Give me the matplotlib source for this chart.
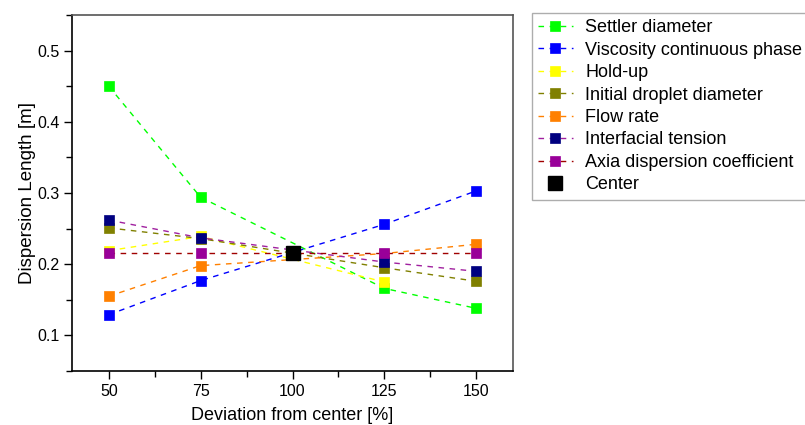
import numpy as np
import matplotlib
matplotlib.use('Agg')
import matplotlib.pyplot as plt
from matplotlib.ticker import MultipleLocator

plt.rcParams['font.family'] = ['Liberation Sans', 'DejaVu Sans']

# Data
x = [50, 75, 125, 150]
settler = [0.450, 0.294, 0.166, 0.138]
viscosity = [0.129, 0.177, 0.256, 0.303]
holdup = [0.219, 0.239, 0.175, np.nan]
droplet = [0.251, 0.236, 0.195, 0.176]
flow = [0.155, 0.198, 0.215, 0.228]
tension = [0.262, 0.237, 0.203, 0.190]
axial = [0.216, 0.216, 0.216, 0.216]
center_x = [100]
center_y = [0.216]

labels = ['Settler diameter', 'Viscosity continuous phase', 'Hold-up',
          'Initial droplet diameter', 'Flow rate', 'Interfacial tension',
          'Axia dispersion coefficient']
series = [settler, viscosity, holdup, droplet, flow, tension, axial]
marker_cols = ['#00ff00', '#0000ff', '#ffff00', '#808000', '#ff8000', '#000080', '#990099']
line_cols = ['#00ff00', '#0000ff', '#ffff00', '#808000', '#ff8000', '#a0209f', '#a00000']

fig = plt.figure(figsize=(8.05, 4.25), dpi=100)
ax = fig.add_axes([72/805, 1-371/425, (513-72)/805, (371-15)/425])

for ys, lab, mc, lc in zip(series, labels, marker_cols, line_cols):
    ax.plot(x, ys, linestyle=(0, (4, 4)), linewidth=1.0, color=lc,
            marker='s', markersize=7.5, markerfacecolor=mc,
            markeredgecolor=mc, markeredgewidth=0.5, label=lab)
ax.plot(center_x, center_y, linestyle='none', marker='s', markersize=9.5,
        color='black', label='Center')

ax.set_xlim(40, 160)
ax.set_ylim(0.05, 0.55)
ax.xaxis.set_major_locator(MultipleLocator(25))
ax.xaxis.set_minor_locator(MultipleLocator(12.5))
ax.yaxis.set_major_locator(MultipleLocator(0.1))
ax.yaxis.set_minor_locator(MultipleLocator(0.05))
ax.tick_params(which='major', direction='out', length=6, width=1, labelsize=11.5, pad=3)
ax.tick_params(which='minor', direction='out', length=4, width=1)
ax.set_xticks([50, 75, 100, 125, 150])
ax.set_yticks([0.1, 0.2, 0.3, 0.4, 0.5])
ax.set_yticklabels(['0.1', '0.2', '0.3', '0.4', '0.5'])

for s in ['left', 'bottom']:
    ax.spines[s].set_linewidth(1.2)
for s in ['top', 'right']:
    ax.spines[s].set_color('#555555')
    ax.spines[s].set_linewidth(1.2)

ax.set_xlabel('Deviation from center [%]', fontsize=13, labelpad=6)
ax.set_ylabel('Dispersion Length [m]', fontsize=13.5, labelpad=1)

leg = fig.legend(loc='upper left', bbox_to_anchor=(532/805, 1-13/425),
                 fontsize=13, frameon=True, fancybox=False, edgecolor='#999999',
                 handlelength=1.9, handletextpad=0.7, borderpad=0.35,
                 labelspacing=0.3, borderaxespad=0)
leg.get_frame().set_linewidth(1.0)

fig.savefig('out.png', dpi=100)
